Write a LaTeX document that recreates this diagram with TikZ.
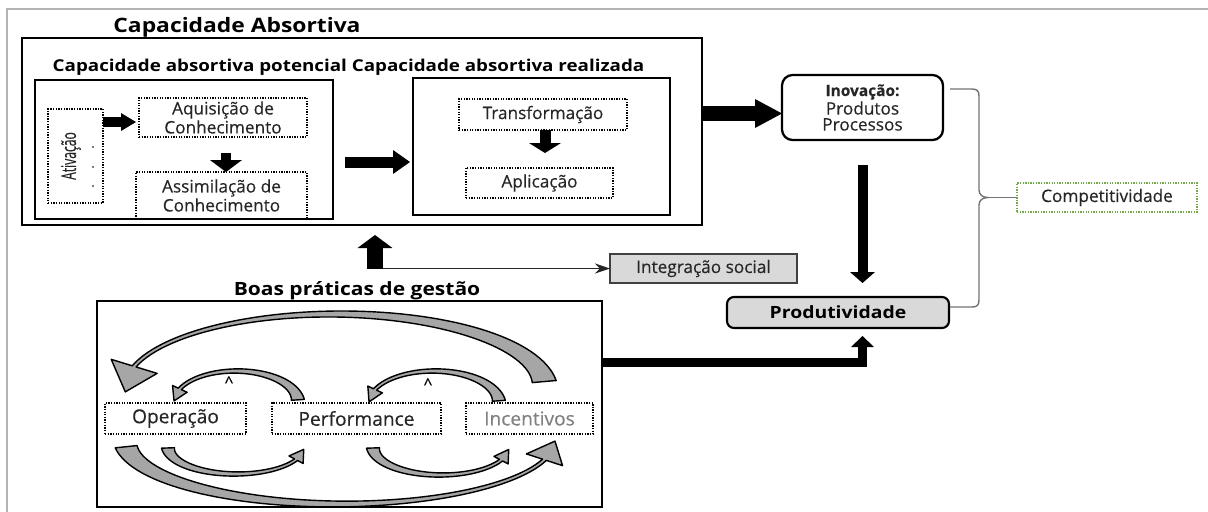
\documentclass[tikz,border=0pt]{standalone}
\usepackage{fontspec}
\setmainfont{Open Sans}
\newfontfamily\headfont[FakeStretch=1.15]{Open Sans}
\newfontfamily\bodyfont[FakeBold=0.35]{Open Sans}
\usetikzlibrary{arrows.meta,calc}

\definecolor{txt}{HTML}{262626}
\definecolor{boxgray}{HTML}{D9D9D9}
\definecolor{arcgray}{HTML}{A6A6A6}
\definecolor{compgreen}{HTML}{70AD47}
\definecolor{framegray}{HTML}{B4B4B4}

% half-width of the head of a curved arrow, in px
\newcommand\caH{8}
% tapered elliptical arrow:
% #1,#2 centre; #3,#4 radii; #5 tail angle; #6 head-base angle; #7 tip angle;
% #8 width at tail; #9 width at head base
\newcommand\carrow[9]{%
  \def\cf{((#6-\t)/(#6-#5))}%
  \def\cw{(#9+(#8-#9)*\cf*\cf*\cf)}%
  \filldraw[curvy]
    plot[domain=#5:#6,samples=60,variable=\t]
      ({#1+(#3+0.5*\cw)*cos(\t)},{#2+(#4+0.5*\cw)*sin(\t)})
    -- ({#1+(#3+\caH)*cos(#6)},{#2+(#4+\caH)*sin(#6)})
    -- ({#1+#3*cos(#7)},{#2+#4*sin(#7)})
    -- ({#1+(#3-\caH)*cos(#6)},{#2+(#4-\caH)*sin(#6)})
    -- plot[domain=#6:#5,samples=60,variable=\t]
      ({#1+(#3-0.5*\cw)*cos(\t)},{#2+(#4-0.5*\cw)*sin(\t)})
    -- cycle;}

\begin{document}
\begin{tikzpicture}[x=0.02cm,y=-0.02cm,
  every node/.style={inner sep=0pt,outer sep=0pt},
  sz/.style 2 args={minimum width=#1*0.02cm,minimum height=#2*0.02cm},
  solidbox/.style={draw,line width=1.2pt},
  dotbox/.style={draw,line width=0.8pt,dash pattern=on 0.75pt off 0.75pt},
  body/.style={font=\bodyfont\fontsize{9.8}{9.1}\selectfont,text=txt,align=center},
  lower/.style={font=\bodyfont\fontsize{10.9}{10}\selectfont,text=txt},
  heading/.style={font=\headfont\bfseries\fontsize{#1}{#1}\selectfont},
  blk/.style n args={3}{draw,line width=#1,-{Triangle[width=#2,length=#3,line width=0pt]}},
  curvy/.style={fill=arcgray,draw=black,line width=0.8pt,line join=round},
  brace/.style={draw=black!55,line width=0.8pt},
]
\useasboundingbox (0,0) rectangle (1208,511);
\draw[framegray,line width=1.1pt] (7,540) -- (7,9) -- (1230,9);

% ---- absorptive capacity block
\node[heading=11.3] (capAt) at (237,27) {Capacidade Absortiva};
\node[solidbox,line width=1.3pt,sz={680}{187}] (capA) at (362,131.5) {};
\node[heading=9.3] (capSub) at (348.5,67) {Capacidade absortiva potencial Capacidade absortiva realizada};

\node[dotbox,sz={171}{47},body] (as) at (221.5,195.5) {Assimilação de\\Conhecimento};
\node[solidbox,sz={298}{139}] (pot) at (184,149.5) {};
\node[solidbox,sz={257}{137}] (real) at (541.5,146.5) {};

\node[dotbox,sz={55}{94}] (ativ) at (75.5,156) {};
\node[rotate=90,font=\bodyfont\fontsize{11.5}{10}\selectfont,text=txt] (ativt) at (71,156) {\scalebox{0.6}[1]{Ativação}};
\foreach \yy in {147,167,186} \fill[txt!60] (92.3,\yy-1) rectangle (93.7,\yy+1);

\node[dotbox,sz={168}{39},body] (aq) at (223,117.5) {Aquisição de\\Conhecimento};
\node[dotbox,sz={168}{31},body] (tr) at (543,114.5) {Transformação};
\node[dotbox,sz={147}{30},body] (ap) at (539.5,183) {Aplicação};

\draw[blk={0.2cm}{0.36cm}{0.3cm}] ([yshift=-0.09cm]ativ.east |- aq.west) -- ([yshift=-0.09cm,xshift=-0.06cm]aq.west);
\coordinate (aqas) at ($(aq.south)+(3,16)$);
\draw[blk={0.2cm}{0.64cm}{0.24cm}] (aqas) -- (aqas |- as.north);
\coordinate (pr) at ($(pot.east)+(12,12.5)$);
\draw[blk={0.22cm}{0.48cm}{0.34cm}] (pr) -- ($(pr -| real.west)+(-3,0)$);
\coordinate (trap) at ($(tr.south)+(2,0)$);
\draw[blk={0.22cm}{0.64cm}{0.2cm}] (trap) -- ($(trap |- ap.north)+(0,-15)$);

% ---- outcomes
\node[draw,line width=1.3pt,rounded corners=6pt,sz={161}{65},body] (inov) at (862.5,107.5)
  {{\fontsize{8.8}{9.1}\selectfont\bfseries Inovação:}\\Produtos\\Processos};
\node[draw,line width=1.2pt,rounded corners=4pt,fill=boxgray,sz={222}{31},heading=9.6] (prod) at (838,312.5) {Produtividade};
\node[draw=black!75,line width=0.8pt,fill=boxgray,sz={187}{29},body] (integ) at (703.5,268.5) {Integração social};
\node[draw=compgreen,line width=0.8pt,dash pattern=on 0.75pt off 0.75pt,sz={180}{29},body] (comp) at (1107,197.5) {Competitividade};

\draw[blk={0.3cm}{0.58cm}{0.54cm}] ([yshift=-0.12cm]capA.east |- inov.west) -- ([yshift=-0.12cm]inov.west);
\coordinate (ip) at ($(inov.south)+(0,25)$);
\draw[blk={0.2cm}{0.5cm}{0.22cm}] (ip) -- ($(ip |- prod.north)+(0,-14)$);

\coordinate (ub) at (375,268.5);
\draw[blk={0.32cm}{0.7cm}{0.26cm}] (ub) -- ($(ub |- capA.south)+(0,10)$);
\draw[line width=0.6pt,black!85,-{Stealth[length=0.3cm,width=0.2cm]}] ($(ub)+(8,0)$) -- (integ.west);

% brace gathering innovation and productivity
\coordinate (bt) at ($(inov.north east)+(7,14)$);
\coordinate (bb) at ($(prod.east)+(1,-5.5)$);
\coordinate (bm) at ($(comp.west)+(-29,0)$);
\draw[brace] (bt) -- (972,89) .. controls (977,89) and (979,91) .. (979,96) -- (979,190)
  .. controls (979,195) and (983,197.5) .. (bm)
  .. controls (983,197.5) and (979,200) .. (979,205) -- (979,300)
  .. controls (979,305) and (977,307) .. (972,307) -- (bb);
\draw[brace] (bm) -- (comp.west);

% ---- management practices block
\node[heading=10.4] (boast) at (357,291) {Boas práticas de gestão};
\node[solidbox,line width=1.6pt,sz={505}{206}] (boas) at (349.5,404) {};
\node[dotbox,sz={141}{31},lower] (op) at (175.5,418.5) {Operação};
\node[dotbox,sz={169}{31},lower] (perf) at (356.5,418.5) {Performance};
\node[dotbox,sz={127}{31},lower,text=black!50] (inc) at (529.5,418.5) {Incentivos};
\node[font=\bodyfont\fontsize{9}{9}\selectfont] (car1) at (229,382) {\textasciicircum};
\node[font=\bodyfont\fontsize{9}{9}\selectfont] (car2) at (428,384) {\textasciicircum};

\coordinate (bp) at ($(boas.north east)+(0,61)$);
\draw[blk={0.18cm}{0.46cm}{0.22cm},line join=miter] (bp) -| ($(inov.south |- prod.south)+(0,8)$);

% feedback loops
\renewcommand\caH{24}
\carrow{335}{388}{210}{74}{-5}{-163}{-183}{24}{4}
\renewcommand\caH{19}
\carrow{340}{440}{215}{64}{174}{18}{1}{22}{4}
\renewcommand\caH{8}
\carrow{236}{402}{62}{31}{-4}{-155}{-178}{13}{3.5}
\carrow{434}{403}{65}{32}{-4}{-155}{-178}{13}{3.5}
\carrow{236}{447}{68}{27}{178}{28}{5}{13}{3.5}
\carrow{441}{447}{68}{28}{178}{28}{5}{13}{3.5}
\end{tikzpicture}
\end{document}
